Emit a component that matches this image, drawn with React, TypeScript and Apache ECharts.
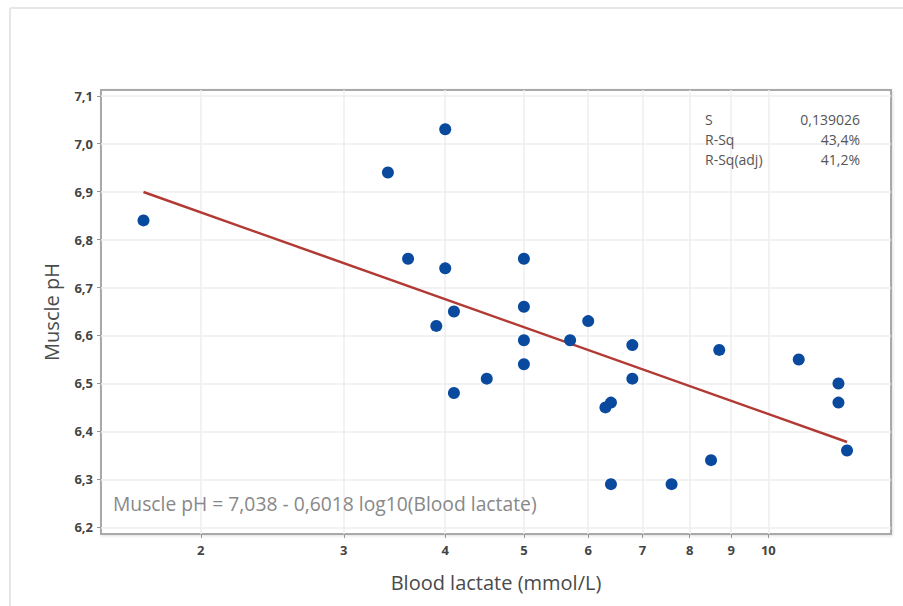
import React, { useEffect, useRef } from "react";
import * as echarts from "echarts";

const lactate = [1.7, 3.4, 4.0, 3.6, 4.0, 4.1, 3.9, 5.0, 5.0, 6.0, 5.0, 5.7, 5.0, 4.5, 4.1, 6.3, 6.4, 6.8, 6.8, 6.4, 7.6, 8.5, 8.7, 10.9, 12.2, 12.2, 12.5];
const musclePH = [6.84, 6.94, 7.03, 6.76, 6.74, 6.65, 6.62, 6.76, 6.66, 6.63, 6.59, 6.59, 6.54, 6.51, 6.48, 6.45, 6.46, 6.58, 6.51, 6.29, 6.29, 6.34, 6.57, 6.55, 6.50, 6.46, 6.36];

const xTicks = [2, 3, 4, 5, 6, 7, 8, 9, 10];
const yTicks = [6.2, 6.3, 6.4, 6.5, 6.6, 6.7, 6.8, 6.9, 7.0, 7.1];

const intercept = 7.038;
const slope = -0.6018;

const statLabels = ["S", "R-Sq", "R-Sq(adj)"];
const statValues = ["0,139026", "43,4%", "41,2%"];
const equationText = "Muscle pH = 7,038 - 0,6018 log10(Blood lactate)";

const FONT = "'Open Sans', 'Noto Sans', sans-serif";

export default function App() {
  const ref = useRef<HTMLDivElement>(null);
  useEffect(() => {
    if (!ref.current) return;
    const chart = echarts.init(ref.current, undefined, { renderer: "svg" });
    const points = lactate.map((x, i) => [x, musclePH[i]]);
    const xMin = Math.min(...lactate);
    const xMax = Math.max(...lactate);
    const fit = [xMin, xMax].map((x) => [x, intercept + slope * Math.log10(x)]);

    const statGraphics: any[] = [];
    statLabels.forEach((s, i) => {
      statGraphics.push({
        type: "text",
        left: 705,
        top: 112 + i * 20,
        z: 100,
        style: { text: s, fontSize: 14, fontFamily: FONT, fill: "#555" },
      });
      statGraphics.push({
        type: "text",
        right: 43,
        top: 112 + i * 20,
        z: 100,
        style: { text: statValues[i], fontSize: 14, fontFamily: FONT, fill: "#555", align: "right" },
      });
    });

    chart.setOption({
      animation: false,
      backgroundColor: "#ffffff",
      grid: {
        left: 101,
        right: 12,
        top: 90,
        bottom: 72,
        show: true,
        backgroundColor: "#ffffff",
        borderColor: "#a9a9a9",
        borderWidth: 2,
        shadowColor: "rgba(0,0,0,0.12)",
        shadowBlur: 3,
        shadowOffsetX: 1,
        shadowOffsetY: 1,
      },
      xAxis: {
        type: "log",
        logBase: 10,
        min: 1.507,
        max: 14.16,
        name: "Blood lactate (mmol/L)",
        nameLocation: "middle",
        nameGap: 38,
        nameTextStyle: { fontSize: 20, fontFamily: FONT, color: "#4a4a4a" },
        axisLine: { show: false },
        axisTick: { show: true, customValues: xTicks, length: 4, lineStyle: { color: "#999" } },
        axisLabel: {
          customValues: xTicks,
          formatter: (v: number) => String(Math.round(v)),
          fontSize: 13,
          fontWeight: "bold",
          fontFamily: FONT,
          color: "#444",
          margin: 9,
        },
        splitLine: { show: true, lineStyle: { color: "#eeeeee", width: 1.5 } },
        minorTick: { show: false },
        minorSplitLine: { show: false },
      },
      yAxis: {
        type: "value",
        min: 6.186,
        max: 7.112,
        name: "Muscle pH",
        nameLocation: "middle",
        nameGap: 40,
        nameTextStyle: { fontSize: 20, fontFamily: FONT, color: "#4a4a4a" },
        axisLine: { show: false },
        axisTick: { show: true, customValues: yTicks, length: 4, lineStyle: { color: "#999" } },
        axisLabel: {
          customValues: yTicks,
          formatter: (v: number) => v.toFixed(1).replace(".", ","),
          fontSize: 13,
          fontWeight: "bold",
          fontFamily: FONT,
          color: "#444",
          margin: 8,
        },
        splitLine: { show: true, lineStyle: { color: "#eeeeee", width: 1.5 } },
      },
      series: [
        {
          type: "line",
          data: fit,
          showSymbol: false,
          symbol: "none",
          lineStyle: { color: "#b23a34", width: 2.5 },
          z: 2,
        },
        {
          type: "scatter",
          data: points,
          symbol: "circle",
          symbolSize: 12,
          itemStyle: { color: "#0a4a9e", opacity: 1 },
          z: 3,
        },
      ],
      graphic: [
        { type: "line", shape: { x1: 10, y1: 8, x2: 903, y2: 8 }, style: { stroke: "#e6e6e6", lineWidth: 2 } },
        { type: "line", shape: { x1: 10, y1: 8, x2: 10, y2: 606 }, style: { stroke: "#e6e6e6", lineWidth: 2 } },
        {
          type: "text",
          left: 113,
          top: 494,
          z: 100,
          style: { text: equationText, fontSize: 19.3, fontFamily: FONT, fill: "#888" },
        },
        ...statGraphics,
      ],
    });
    return () => chart.dispose();
  }, []);
  return (
    <div
      ref={ref}
      style={{ position: "fixed", left: 0, top: 0, width: 903, height: 606 }}
    />
  );
}
